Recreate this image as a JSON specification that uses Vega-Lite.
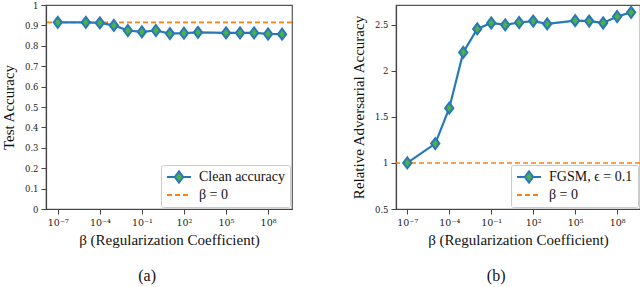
{
  "$schema": "https://vega.github.io/schema/vega-lite/v6.json",
  "padding": {"left": 0, "top": 0, "right": 2, "bottom": 0},
  "background": "white",
  "datasets": {
    "clean": [
      {"beta": 1e-7, "acc": 0.915},
      {"beta": 1e-5, "acc": 0.915},
      {"beta": 1e-4, "acc": 0.912},
      {"beta": 1e-3, "acc": 0.900},
      {"beta": 1e-2, "acc": 0.875},
      {"beta": 1e-1, "acc": 0.868},
      {"beta": 1, "acc": 0.875},
      {"beta": 10, "acc": 0.860},
      {"beta": 100, "acc": 0.862},
      {"beta": 1000, "acc": 0.866},
      {"beta": 1e5, "acc": 0.863},
      {"beta": 1e6, "acc": 0.863},
      {"beta": 1e7, "acc": 0.863},
      {"beta": 1e8, "acc": 0.858},
      {"beta": 1e9, "acc": 0.857}
    ],
    "fgsm": [
      {"beta": 1e-7, "rel": 1.0},
      {"beta": 1e-5, "rel": 1.21},
      {"beta": 1e-4, "rel": 1.595},
      {"beta": 1e-3, "rel": 2.20},
      {"beta": 1e-2, "rel": 2.455},
      {"beta": 1e-1, "rel": 2.52},
      {"beta": 1, "rel": 2.50},
      {"beta": 10, "rel": 2.525},
      {"beta": 100, "rel": 2.54},
      {"beta": 1000, "rel": 2.51},
      {"beta": 1e5, "rel": 2.545},
      {"beta": 1e6, "rel": 2.54},
      {"beta": 1e7, "rel": 2.52},
      {"beta": 1e8, "rel": 2.59},
      {"beta": 1e9, "rel": 2.635}
    ],
    "base_a": [{"acc": 0.915}],
    "base_b": [{"rel": 1.0}],
    "leg_a": [{"s": "Clean accuracy"}, {"s": "β = 0"}],
    "leg_b": [{"t": "FGSM, ϵ = 0.1"}, {"t": "β = 0"}]
  },
  "config": {
    "view": {"stroke": "#555", "strokeWidth": 1.2},
    "axis": {
      "grid": false,
      "domainColor": "#444",
      "domainWidth": 1.2,
      "tickColor": "#444",
      "tickSize": 5,
      "labelFont": "DejaVu Serif",
      "labelFontSize": 8.5,
      "labelColor": "#222",
      "labelPadding": 3,
      "titleFont": "Liberation Serif",
      "titleFontSize": 15,
      "titleFontWeight": "normal",
      "titleColor": "#111"
    },
    "axisX": {"labelFontSize": 9.5},
    "axisY": {"labelOverlap": false, "labelSeparation": -8},
    "legend": {
      "orient": "bottom-right",
      "offset": 2,
      "padding": 5,
      "strokeColor": "#ccc",
      "fillColor": "white",
      "cornerRadius": 2,
      "symbolSize": 144,
      "symbolStrokeWidth": 2,
      "symbolOpacity": 1,
      "symbolOffset": 6,
      "labelOffset": 13,
      "labelFont": "Liberation Serif",
      "labelFontSize": 14,
      "labelColor": "#111",
      "rowPadding": 1,
      "title": null
    },
    "title": {
      "font": "Liberation Serif",
      "fontSize": 16,
      "fontWeight": "normal",
      "color": "#111"
    }
  },
  "spacing": 56,
  "resolve": {
    "scale": {"fill": "independent", "stroke": "independent", "shape": "independent"},
    "legend": {"fill": "independent", "stroke": "independent", "shape": "independent"}
  },
  "hconcat": [
    {
      "width": 246,
      "height": 204,
      "title": {"text": "(a)", "orient": "bottom", "frame": "bounds", "anchor": "middle", "offset": 20},
      "encoding": {
        "y": {
          "field": "acc", "type": "quantitative",
          "scale": {"domain": [0, 1], "nice": false, "zero": false},
          "axis": {
            "title": "Test Accuracy",
            "values": [0, 0.1, 0.2, 0.3, 0.4, 0.5, 0.6, 0.7, 0.8, 0.9, 1],
            "labelExpr": "datum.value == 0 ? '0' : datum.value == 1 ? '1' : format(datum.value, '.1f')",
            "labelOverlap": false,
            "labelSeparation": -8,
            "titlePadding": 8
          }
        }
      },
      "layer": [
        {
          "data": {"name": "base_a"},
          "mark": {"type": "rule", "color": "#ff7f0e", "strokeDash": [5, 3], "strokeWidth": 1.6},
          "encoding": {}
        },
        {
          "data": {"name": "clean"},
          "mark": {"type": "line", "color": "#2878b8", "strokeWidth": 2.2},
          "encoding": {
            "x": {
              "field": "beta", "type": "quantitative",
              "scale": {"type": "log", "domain": [1.445e-8, 5.1e9], "nice": false},
              "axis": {
                "title": "β (Regularization Coefficient)",
                "values": [1e-7, 1e-4, 1e-1, 100, 100000, 100000000],
                "labelExpr": "datum.value < 1e-6 ? '10⁻⁷' : datum.value < 1e-3 ? '10⁻⁴' : datum.value < 1 ? '10⁻¹' : datum.value < 1e3 ? '10²' : datum.value < 1e6 ? '10⁵' : '10⁸'",
                "labelOverlap": false,
                "titlePadding": 6
              }
            }
          }
        },
        {
          "data": {"name": "clean"},
          "mark": {"type": "point", "shape": "M0,-1L0.75,0L0,1L-0.75,0Z", "filled": true, "fill": "#4daf4a", "stroke": "#2878b8", "strokeWidth": 2, "size": 121, "opacity": 1},
          "encoding": {
            "x": {"field": "beta", "type": "quantitative"}
          }
        },
        {
          "data": {"name": "leg_a"},
          "mark": {"type": "point", "opacity": 0},
          "encoding": {
            "shape": {
              "field": "s", "type": "nominal",
              "scale": {"domain": ["Clean accuracy", "β = 0"], "range": ["M-2,0L-0.7,0M0.7,0L2,0M0,-0.92L0.7,0L0,0.92L-0.7,0Z", "M-2,0L-1.17,0M-0.67,0L0.17,0M0.67,0L1.5,0"]}
            },
            "fill": {
              "field": "s", "type": "nominal",
              "scale": {"domain": ["Clean accuracy", "β = 0"], "range": ["#4daf4a", "transparent"]}
            },
            "stroke": {
              "field": "s", "type": "nominal",
              "scale": {"domain": ["Clean accuracy", "β = 0"], "range": ["#2878b8", "#ff7f0e"]}
            }
          }
        }
      ]
    },
    {
      "width": 244,
      "height": 204,
      "title": {"text": "(b)", "orient": "bottom", "frame": "bounds", "anchor": "middle", "offset": 20},
      "encoding": {
        "y": {
          "field": "rel", "type": "quantitative",
          "scale": {"domain": [0.5, 2.715], "nice": false, "zero": false},
          "axis": {
            "title": "Relative Adversarial Accuracy",
            "values": [0.5, 1, 1.5, 2, 2.5],
            "format": "~g",
            "labelOverlap": false,
            "titlePadding": 8
          }
        }
      },
      "layer": [
        {
          "data": {"name": "base_b"},
          "mark": {"type": "rule", "color": "#ff7f0e", "strokeDash": [5, 3], "strokeWidth": 1.6},
          "encoding": {}
        },
        {
          "data": {"name": "fgsm"},
          "mark": {"type": "line", "color": "#2878b8", "strokeWidth": 2.2},
          "encoding": {
            "x": {
              "field": "beta", "type": "quantitative",
              "scale": {"type": "log", "domain": [1.563e-8, 4.3e9], "nice": false},
              "axis": {
                "title": "β (Regularization Coefficient)",
                "values": [1e-7, 1e-4, 1e-1, 100, 100000, 100000000],
                "labelExpr": "datum.value < 1e-6 ? '10⁻⁷' : datum.value < 1e-3 ? '10⁻⁴' : datum.value < 1 ? '10⁻¹' : datum.value < 1e3 ? '10²' : datum.value < 1e6 ? '10⁵' : '10⁸'",
                "labelOverlap": false,
                "titlePadding": 6
              }
            }
          }
        },
        {
          "data": {"name": "fgsm"},
          "mark": {"type": "point", "shape": "M0,-1L0.75,0L0,1L-0.75,0Z", "filled": true, "fill": "#4daf4a", "stroke": "#2878b8", "strokeWidth": 2, "size": 121, "opacity": 1},
          "encoding": {
            "x": {"field": "beta", "type": "quantitative"}
          }
        },
        {
          "data": {"name": "leg_b"},
          "mark": {"type": "point", "opacity": 0},
          "encoding": {
            "shape": {
              "field": "t", "type": "nominal",
              "scale": {"domain": ["FGSM, ϵ = 0.1", "β = 0"], "range": ["M-2,0L-0.7,0M0.7,0L2,0M0,-0.92L0.7,0L0,0.92L-0.7,0Z", "M-2,0L-1.17,0M-0.67,0L0.17,0M0.67,0L1.5,0"]}
            },
            "fill": {
              "field": "t", "type": "nominal",
              "scale": {"domain": ["FGSM, ϵ = 0.1", "β = 0"], "range": ["#4daf4a", "transparent"]}
            },
            "stroke": {
              "field": "t", "type": "nominal",
              "scale": {"domain": ["FGSM, ϵ = 0.1", "β = 0"], "range": ["#2878b8", "#ff7f0e"]}
            }
          }
        }
      ]
    }
  ]
}
